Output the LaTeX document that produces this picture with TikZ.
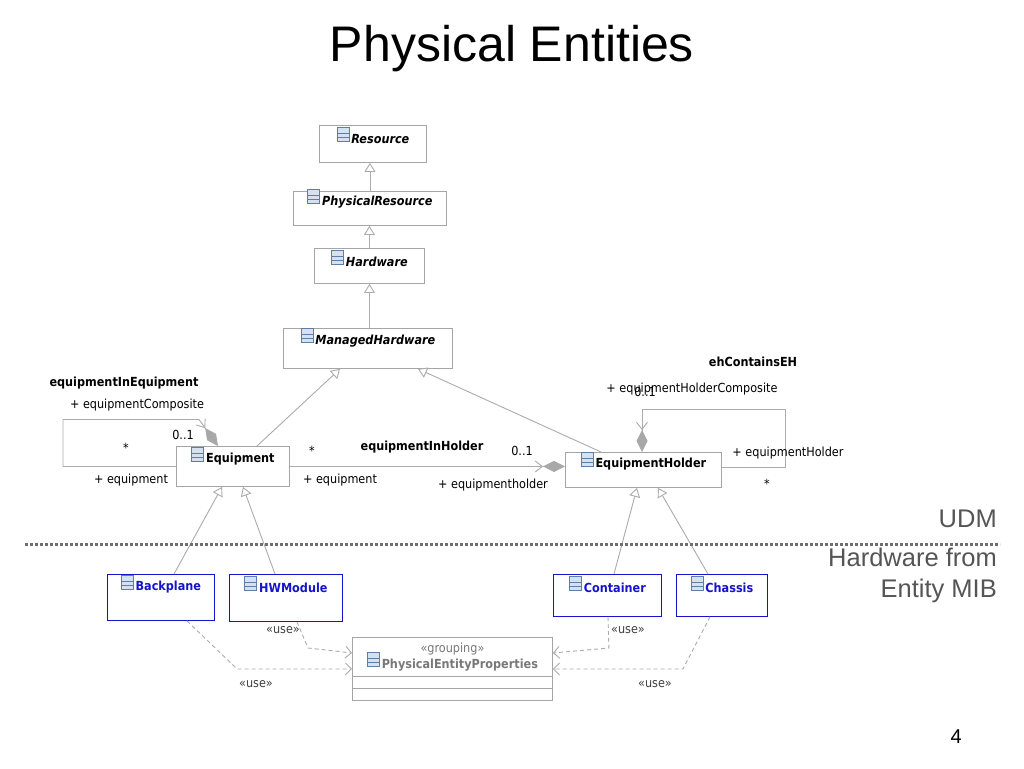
\documentclass[tikz,border=0pt]{standalone}
\usepackage{fontspec}
\setmainfont{Liberation Sans}
\newfontfamily\umlfont[FakeStretch=0.9]{DejaVu Sans}
\usetikzlibrary{arrows.meta,calc}
\definecolor{linegray}{RGB}{172,172,172}
\definecolor{boxgray}{RGB}{165,165,165}
\definecolor{umlblue}{RGB}{20,20,205}
\definecolor{diagray}{RGB}{168,168,168}
\definecolor{iconline}{RGB}{95,125,165}
\definecolor{iconfill}{RGB}{214,225,240}
\definecolor{sidegray}{RGB}{85,85,85}
\definecolor{sepgray}{RGB}{110,110,110}
\definecolor{pepgray}{RGB}{120,120,120}
\newcommand\clsicon{\tikz[x=1pt,y=1pt,baseline=-2pt]{\draw[iconline,fill=iconfill,line width=0.8pt] (0,0) rectangle (12,14); \draw[iconline,line width=0.8pt] (0,4)--(12,4) (0,8)--(12,8);}\hspace{2pt}}
\tikzset{
  cls/.style={draw=boxgray, line width=0.9pt, fill=white, inner sep=0pt, anchor=north west},
  bcls/.style={cls, draw=umlblue},
  uml/.style={font=\umlfont\fontsize{12.5}{14}\selectfont, inner sep=0pt},
  umlb/.style={font=\umlfont\fontsize{12.5}{14}\selectfont\bfseries, inner sep=0pt},
  umlbi/.style={font=\umlfont\fontsize{12.5}{14}\selectfont\bfseries\itshape, inner sep=0pt},
  gen/.style={draw=linegray, line width=0.9pt, -{Triangle[open, fill=white, length=9pt, width=11pt]}},
  assoc/.style={draw=linegray, line width=0.9pt, -{Straight Barb[length=7pt,width=11pt] Diamond[length=22pt,width=11pt,color=diagray,fill=diagray]}},
  dep/.style={draw=linegray, line width=0.9pt, dash pattern=on 4pt off 3pt, -{Straight Barb[length=6pt,width=12pt]}},
  usel/.style={uml, text=black!75},
  side/.style={font=\fontsize{25.5}{30}\selectfont, text=sidegray, anchor=base east, inner sep=0pt},
}
\begin{document}
\begin{tikzpicture}[x=1pt,y=-1pt]
\fill[white] (0,0) rectangle (1024,768);
\useasboundingbox (0,0) rectangle (1024,768);

% title
\node[anchor=base, inner sep=0pt, font=\fontsize{50}{60}\selectfont] (title) at (512,61) {Physical Entities};

% class boxes
\node[cls, minimum width=107pt, minimum height=37pt] (res) at (319,125) {};
\node[cls, minimum width=153pt, minimum height=34pt] (pr) at (293,191) {};
\node[cls, minimum width=110pt, minimum height=35pt] (hw) at (314,248) {};
\node[cls, minimum width=169pt, minimum height=40pt] (mh) at (283,328) {};
\node[cls, minimum width=113pt, minimum height=40pt] (eq) at (176,446) {};
\node[cls, minimum width=156pt, minimum height=35pt] (hold) at (565,452) {};
\node[bcls, minimum width=107pt, minimum height=46pt] (bp) at (107,574) {};
\node[bcls, minimum width=113pt, minimum height=47pt] (hwm) at (229,574) {};
\node[bcls, minimum width=108pt, minimum height=42pt] (cont) at (553,574) {};
\node[bcls, minimum width=91pt, minimum height=42pt] (chas) at (676,574) {};
\node[cls, minimum width=200pt, minimum height=63pt] (pep) at (352,637) {};
\draw[boxgray, line width=0.9pt] ($(pep.north west)+(0,39)$) -- ($(pep.north east)+(0,39)$);
\draw[boxgray, line width=0.9pt] ($(pep.north west)+(0,51)$) -- ($(pep.north east)+(0,51)$);

% class names
\node[umlbi] (resn) at ($(res.north)+(0,10)$) {\clsicon Resource};
\node[umlbi] (prn) at ($(pr.north)+(0,8)$) {\clsicon PhysicalResource};
\node[umlbi] (hwn) at ($(hw.north)+(0,10)$) {\clsicon Hardware};
\node[umlbi] (mhn) at ($(mh.north)+(0,10)$) {\clsicon ManagedHardware};
\node[umlb] (eqn) at ($(eq.north)+(0,10)$) {\clsicon Equipment};
\node[umlb] (holdn) at ($(hold.north)+(0,9)$) {\clsicon EquipmentHolder};
\node[umlb, text=umlblue] (bpn) at ($(bp.north)+(0,10)$) {\clsicon Backplane};
\node[umlb, text=umlblue] (hwmn) at ($(hwm.north)+(0,10)$) {\clsicon HWModule};
\node[umlb, text=umlblue] (contn) at ($(cont.north)+(0,10)$) {\clsicon Container};
\node[umlb, text=umlblue] (chasn) at ($(chas.north)+(0,10)$) {\clsicon Chassis};
\node[uml, text=pepgray] (pepst) at ($(pep.north)+(0,12)$) {«grouping»};
\node[umlb, text=pepgray] (pepn) at ($(pep.north)+(0,25)$) {\clsicon PhysicalEntityProperties};

% generalizations
\draw[gen] (pr.north) -- (pr.north |- res.south);
\draw[gen] (hw.north) -- (hw.north |- pr.south);
\draw[gen] (hw.south |- mh.north) -- (hw.south);
\draw[gen] ($(eq.north west)+(81,0)$) -- ($(mh.south west)+(57,0)$);
\draw[gen] ($(hold.north west)+(36,0)$) -- ($(mh.south west)+(135,0)$);
\draw[gen] ($(bp.north west)+(67,0)$) -- ($(eq.south west)+(46,0)$);
\draw[gen] ($(hwm.north west)+(46,0)$) -- ($(eq.south west)+(67,0)$);
\draw[gen] ($(cont.north west)+(61,0)$) -- ($(hold.south west)+(72,0)$);
\draw[gen] ($(chas.north west)+(32,0)$) -- ($(hold.south west)+(93,0)$);

% associations
\draw[assoc] (eq.west) -- ++(-113,0) -- ++(0,-47) -- ++(136,0) -- ($(eq.north west)+(42,0)$);
\draw[assoc] (eq.east) -- (eq.east -| hold.west);
\draw[assoc] ($(hold.north east)+(0,15)$) -- ++(64,0) -- ++(0,-58) -- ($(hold.north west)+(77,-43)$) -- ($(hold.north west)+(77,0)$);

% association labels
\node[umlb] (a1) at (124,383) {equipmentInEquipment};
\node[uml] (a2) at (137,405) {+ equipmentComposite};
\node[uml] (a3) at (183,435) {0..1};
\node[uml] (a4) at (126,448) {*};
\node[uml] (a5) at (131,480) {+ equipment};
\node[uml] (b1) at (312,451) {*};
\node[umlb] (b2) at (422,447) {equipmentInHolder};
\node[uml] (b3) at (522,451) {0..1};
\node[uml] (b4) at (340,480) {+ equipment};
\node[uml] (b5) at (493,485) {+ equipmentholder};
\node[umlb] (c1) at (753,362) {ehContainsEH};
\node[uml] (c2) at (692,389) {+ equipmentHolderComposite};
\node[uml] (c3) at (645,392) {0..1};
\node[uml] (c4) at (788,453) {+ equipmentHolder};
\node[uml] (c5) at (767,484) {*};

% dependencies
\draw[dep] ($(bp.south west)+(80,0)$) -- ($(pep.west)+(-115,0)$) -- (pep.west);
\draw[dep] ($(hwm.south west)+(68,0)$) -- ($(pep.north west)+(-44,11)$) -- ($(pep.north west)+(0,16)$);
\draw[dep] ($(cont.south west)+(55,0)$) -- ($(pep.north east)+(56,11)$) -- ($(pep.north east)+(0,16)$);
\draw[dep] ($(chas.south west)+(34,0)$) -- ($(pep.east)+(130,0)$) -- (pep.east);
\node[usel] (u1) at (283,630) {«use»};
\node[usel] (u2) at (256,684) {«use»};
\node[usel] (u3) at (628,630) {«use»};
\node[usel] (u4) at (655,684) {«use»};

% separator and side labels
\coordinate (sepL) at (25,544);
\coordinate (sepR) at (1000,544);
\draw[sepgray, line width=3pt, dash pattern=on 3pt off 2pt] (sepL) -- (sepR);
\node[side] (udm) at (997,527) {UDM};
\node[side] (hf) at (997,566) {Hardware from};
\node[side] (em) at (997,597) {Entity MIB};

% page number
\node[anchor=base east, inner sep=0pt, font=\fontsize{20}{24}\selectfont] (pg) at (962,743) {4};
\end{tikzpicture}
\end{document}
